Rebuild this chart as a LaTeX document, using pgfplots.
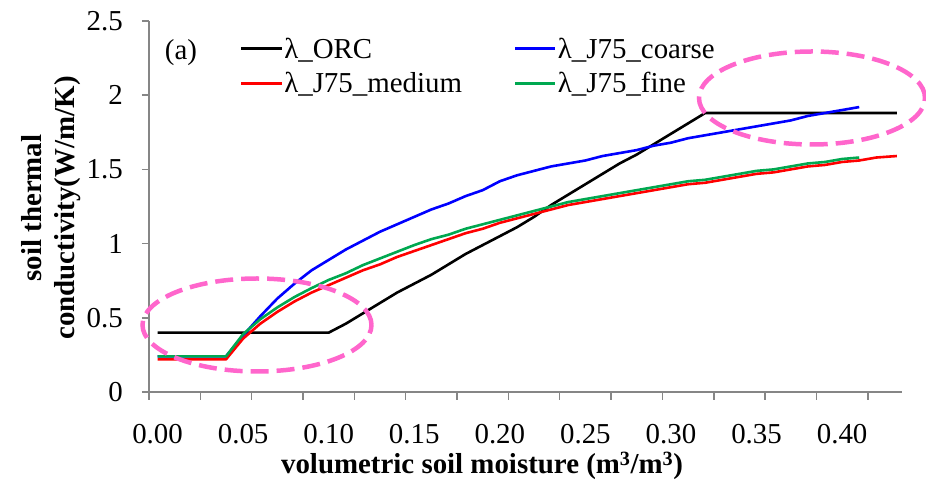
\documentclass[border=0pt]{standalone}
\usepackage{fontspec}
\setmainfont{Liberation Serif}
\usepackage{pgfplots}
\pgfplotsset{compat=1.18}
\definecolor{axgray}{RGB}{134,134,134}
\definecolor{exgreen}{RGB}{0,168,80}
\definecolor{expink}{RGB}{255,102,204}
\newcommand\bigf{\fontsize{29}{34}\selectfont}
\begin{document}
\begin{tikzpicture}[x=1bp,y=1bp]
\useasboundingbox (-149,-91) rectangle (777,392);
\begin{axis}[
  at={(0,0)}, anchor=south west,
  scale only axis, width=753bp, height=371bp,
  xmin=-0.005, xmax=0.435, ymin=0, ymax=2.5,
  axis x line*=bottom, axis y line*=left,
  axis line style={axgray, line width=1.8bp, -},
  every tick/.style={axgray, line width=1.5bp},
  tick align=outside,
  xtick={0,0.05,0.10,0.15,0.20,0.25,0.30,0.35,0.40},
  xticklabels={0.00,0.05,0.10,0.15,0.20,0.25,0.30,0.35,0.40},
  major x tick style={draw=none},
  minor xtick={-0.005,0.025,0.055,0.085,0.115,0.145,0.175,0.205,0.235,0.265,0.295,0.325,0.355,0.385,0.415},
  minor tick length=8bp,
  ytick={0,0.5,1,1.5,2,2.5},
  yticklabels={0,0.5,1,1.5,2,2.5},
  major tick length=7bp,
  ticklabel style={font=\bigf, inner sep=0pt},
  xticklabel style={anchor=north, yshift=-25bp},
  yticklabel style={anchor=east, xshift=-19bp},
  clip=false,
  legend columns=2,
  legend style={draw=none, fill=none, font=\bigf, at={(91bp,356bp)}, anchor=north west,
    inner sep=0pt, row sep=10bp,
    nodes={inner sep=1.5bp, anchor=west}},
  legend cell align=left,
  legend image code/.code={\draw[#1] (0bp,0bp) -- (40bp,0bp);},
  every axis plot/.append style={line width=2.6bp, line join=round},
]
\addplot[black] coordinates {
(0.00,0.40)(0.01,0.40)(0.02,0.40)(0.03,0.40)(0.04,0.40)(0.05,0.40)(0.06,0.40)(0.07,0.40)(0.08,0.40)(0.09,0.40)(0.10,0.40)
(0.11,0.46)(0.12,0.53)(0.13,0.60)(0.14,0.67)(0.15,0.73)(0.16,0.79)(0.17,0.86)(0.18,0.93)(0.19,0.99)(0.20,1.05)
(0.21,1.11)(0.22,1.18)(0.23,1.26)(0.24,1.33)(0.25,1.40)(0.26,1.47)(0.27,1.54)(0.28,1.60)(0.29,1.67)(0.30,1.74)
(0.31,1.81)(0.32,1.88)(0.33,1.88)(0.34,1.88)(0.35,1.88)(0.36,1.88)(0.37,1.88)(0.38,1.88)(0.39,1.88)(0.40,1.88)
(0.41,1.88)(0.42,1.88)(0.432,1.88)};
\addlegendentry{\makebox[228bp][l]{λ\_ORC}}
\addplot[blue] coordinates {
(0.00,0.24)(0.01,0.24)(0.02,0.24)(0.03,0.24)(0.04,0.24)(0.05,0.38)(0.06,0.51)(0.07,0.63)(0.08,0.73)(0.09,0.82)(0.10,0.89)
(0.11,0.96)(0.12,1.02)(0.13,1.08)(0.14,1.13)(0.15,1.18)(0.16,1.23)(0.17,1.27)(0.18,1.32)(0.19,1.36)(0.20,1.42)
(0.21,1.46)(0.22,1.49)(0.23,1.52)(0.24,1.54)(0.25,1.56)(0.26,1.59)(0.27,1.61)(0.28,1.63)(0.29,1.66)(0.30,1.68)
(0.31,1.71)(0.32,1.73)(0.33,1.75)(0.34,1.77)(0.35,1.79)(0.36,1.81)(0.37,1.83)(0.38,1.86)(0.39,1.88)(0.40,1.90)
(0.41,1.92)};
\addlegendentry{λ\_J75\_coarse}
\addplot[red] coordinates {
(0.00,0.22)(0.01,0.22)(0.02,0.22)(0.03,0.22)(0.04,0.22)(0.05,0.36)(0.06,0.46)(0.07,0.54)(0.08,0.61)(0.09,0.67)(0.10,0.72)
(0.11,0.77)(0.12,0.82)(0.13,0.86)(0.14,0.91)(0.15,0.95)(0.16,0.99)(0.17,1.03)(0.18,1.07)(0.19,1.10)(0.20,1.14)
(0.21,1.17)(0.22,1.20)(0.23,1.23)(0.24,1.26)(0.25,1.28)(0.26,1.30)(0.27,1.32)(0.28,1.34)(0.29,1.36)(0.30,1.38)
(0.31,1.40)(0.32,1.41)(0.33,1.43)(0.34,1.45)(0.35,1.47)(0.36,1.48)(0.37,1.50)(0.38,1.52)(0.39,1.53)(0.40,1.55)
(0.41,1.56)(0.42,1.58)(0.432,1.59)};
\addlegendentry{\makebox[228bp][l]{λ\_J75\_medium}}
\addplot[exgreen] coordinates {
(0.00,0.24)(0.01,0.24)(0.02,0.24)(0.03,0.24)(0.04,0.24)(0.05,0.39)(0.06,0.49)(0.07,0.57)(0.08,0.64)(0.09,0.70)(0.10,0.755)
(0.11,0.80)(0.12,0.855)(0.13,0.90)(0.14,0.945)(0.15,0.99)(0.16,1.03)(0.17,1.06)(0.18,1.10)(0.19,1.13)(0.20,1.16)
(0.21,1.19)(0.22,1.22)(0.23,1.25)(0.24,1.28)(0.25,1.30)(0.26,1.32)(0.27,1.34)(0.28,1.36)(0.29,1.38)(0.30,1.40)
(0.31,1.42)(0.32,1.43)(0.33,1.45)(0.34,1.47)(0.35,1.49)(0.36,1.50)(0.37,1.52)(0.38,1.54)(0.39,1.55)(0.40,1.57)
(0.41,1.58)};
\addlegendentry{λ\_J75\_fine}
\end{axis}
\draw[expink, line width=4.5bp, dash pattern=on 18bp off 8bp] (108,67) ellipse [x radius=114.5, y radius=46.5];
\draw[expink, line width=4.5bp, dash pattern=on 18bp off 8bp] (663,294) ellipse [x radius=113, y radius=46.5];
\node[font=\bigf, anchor=center] at (32,339) {(a)};
\node[font=\bigf\bfseries, anchor=base] at (333,-82) {volumetric soil moisture (m\textsuperscript{3}/m\textsuperscript{3})};
\node[font=\bigf\bfseries, anchor=base, rotate=90] at (-107,184) {soil thermal};
\node[font=\bigf\bfseries, anchor=base, rotate=90] at (-74,184) {conductivity(W/m/K)};
\end{tikzpicture}
\end{document}
